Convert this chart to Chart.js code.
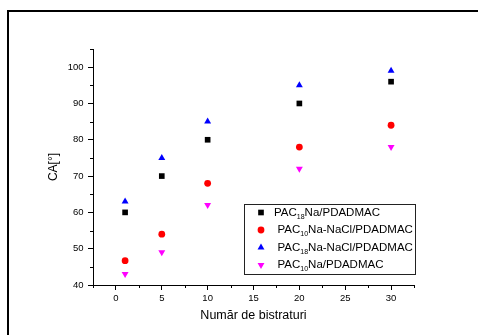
<!DOCTYPE html>
<html>
<head>
<meta charset="utf-8">
<script src="https://cdn.jsdelivr.net/npm/chart.js@4/dist/chart.umd.min.js"></script>
<style>
    html, body { margin: 0; padding: 0; background: #fff; overflow: hidden; }
    #wrap { position: relative; width: 478px; height: 335px; }
    #frame { position: absolute; left: 7px; top: 10px; width: 520px; height: 400px; border: 2px solid #000; }
    #chart { position: absolute; left: 0; top: 0; }
</style>
</head>
<body>
<div id="wrap">
    <div id="frame"></div>
    <canvas id="chart" width="478" height="335"></canvas>
</div>
<script>
// ============================================
// Contact angle vs. number of bilayers
// ============================================

const layers = [1, 5, 10, 20, 30];

const pac18Na = [60, 70, 80, 90, 96];
const pac10NaNaCl = [46.7, 54, 68, 78, 84];
const pac18NaNaCl = [63, 75, 85, 95, 99];
const pac10Na = [43, 49, 62, 72, 78];

// legend labels: "PAC" + subscript + rest
const legendSub = ['18', '10', '18', '10'];
const legendRest = ['Na/PDADMAC', 'Na-NaCl/PDADMAC', 'Na-NaCl/PDADMAC', 'Na/PDADMAC'];

const xMajor = [0, 5, 10, 15, 20, 25, 30];
const xMinor = [-2.5, 2.5, 7.5, 12.5, 17.5, 22.5, 27.5, 32.5];
const yMajor = [40, 50, 60, 70, 80, 90, 100];
const yMinor = [45, 55, 65, 75, 85, 95, 105];

const FONT = '"Liberation Sans", Arial, sans-serif';

function toPoints(values) {
    return values.map((v, i) => ({ x: layers[i], y: v }));
}

const seriesStyle = [
    { data: pac18Na, color: '#000000', pointStyle: 'rect', radius: 4, rotation: 0 },
    { data: pac10NaNaCl, color: '#ff0000', pointStyle: 'circle', radius: 3.4, rotation: 0 },
    { data: pac18NaNaCl, color: '#0000ff', pointStyle: 'triangle', radius: 4, rotation: 0 },
    { data: pac10Na, color: '#ff00ff', pointStyle: 'triangle', radius: 4, rotation: 180 }
];

/**
 * Minor ticks (shorter, drawn outward)
 */
const minorTicks = {
    id: 'minorTicks',
    afterDraw(chart) {
        const ctx = chart.ctx;
        const xs = chart.scales.x;
        const ys = chart.scales.y;
        const area = chart.chartArea;
        ctx.save();
        ctx.strokeStyle = '#000';
        ctx.lineWidth = 1;
        ctx.beginPath();
        xMinor.forEach(v => {
            const px = Math.round(xs.getPixelForValue(v)) + 0.5;
            ctx.moveTo(px, area.bottom);
            ctx.lineTo(px, area.bottom + 3);
        });
        yMinor.forEach(v => {
            const py = Math.round(ys.getPixelForValue(v)) + 0.5;
            ctx.moveTo(area.left, py);
            ctx.lineTo(area.left - 3, py);
        });
        ctx.stroke();
        ctx.restore();
    }
};

/**
 * Boxed legend with subscripts
 */
const boxLegend = {
    id: 'boxLegend',
    afterDatasetsDraw(chart) {
        const ctx = chart.ctx;
        const box = { x: 244.5, y: 204.5, w: 171, h: 70 };
        const rows = [212.5, 230, 247.5, 265];
        const textX = [274, 277.5, 277.5, 277.5];

        ctx.save();
        ctx.fillStyle = '#fff';
        ctx.fillRect(box.x, box.y, box.w, box.h);
        ctx.strokeStyle = '#222';
        ctx.lineWidth = 1;
        ctx.strokeRect(box.x, box.y, box.w, box.h);

        seriesStyle.forEach((s, i) => {
            ctx.fillStyle = s.color;
            ctx.strokeStyle = s.color;
            Chart.helpers.drawPoint(ctx, {
                pointStyle: s.pointStyle,
                radius: s.radius,
                rotation: s.rotation,
                borderWidth: 0
            }, 261, rows[i]);

            ctx.fillStyle = '#000';
            ctx.textBaseline = 'middle';
            ctx.textAlign = 'left';
            let x = textX[i];
            ctx.font = '11.5px ' + FONT;
            ctx.fillText('PAC', x, rows[i]);
            x += ctx.measureText('PAC').width;
            ctx.font = '7px ' + FONT;
            ctx.fillText(legendSub[i], x, rows[i] + 4.5);
            x += ctx.measureText(legendSub[i]).width;
            ctx.font = '11.5px ' + FONT;
            ctx.fillText(legendRest[i], x, rows[i]);
        });
        ctx.restore();
    }
};

function noPadding(scale) {
    scale.paddingLeft = 0;
    scale.paddingRight = 0;
    scale.paddingTop = 0;
    scale.paddingBottom = 0;
}

const config = {
    type: 'scatter',
    data: {
        datasets: seriesStyle.map(s => ({
            data: toPoints(s.data),
            backgroundColor: s.color,
            borderColor: s.color,
            borderWidth: 0,
            pointStyle: s.pointStyle,
            pointRadius: s.radius,
            pointRotation: s.rotation,
            pointHoverRadius: s.radius
        }))
    },
    options: {
        responsive: false,
        animation: false,
        events: [],
        layout: {
            padding: { left: 0, top: 49, right: 64, bottom: 0 }
        },
        plugins: {
            legend: { display: false },
            tooltip: { enabled: false }
        },
        scales: {
            x: {
                type: 'linear',
                min: -2.5,
                max: 32.5,
                afterBuildTicks: scale => { scale.ticks = xMajor.map(v => ({ value: v })); },
                afterFit: scale => { scale.height = 50; noPadding(scale); },
                grid: {
                    display: true,
                    drawOnChartArea: false,
                    drawTicks: true,
                    tickLength: 5,
                    tickColor: '#000',
                    tickWidth: 1
                },
                border: { display: true, color: '#000', width: 1 },
                ticks: {
                    color: '#000',
                    padding: 3,
                    maxRotation: 0,
                    autoSkip: false,
                    font: { family: FONT, size: 9.5 }
                },
                title: {
                    display: true,
                    text: 'Număr de bistraturi',
                    color: '#000',
                    padding: { top: 0, bottom: 11.5 },
                    font: { family: FONT, size: 12.5 }
                }
            },
            y: {
                type: 'linear',
                min: 40,
                max: 105,
                afterBuildTicks: scale => { scale.ticks = yMajor.map(v => ({ value: v })); },
                afterFit: scale => { scale.width = 93; noPadding(scale); },
                grid: {
                    display: true,
                    drawOnChartArea: false,
                    drawTicks: true,
                    tickLength: 5,
                    tickColor: '#000',
                    tickWidth: 1
                },
                border: { display: true, color: '#000', width: 1 },
                ticks: {
                    color: '#000',
                    padding: 4.5,
                    autoSkip: false,
                    font: { family: FONT, size: 9.5 }
                },
                title: {
                    display: true,
                    text: 'CA[°]',
                    color: '#000',
                    padding: { top: 46, bottom: 0 },
                    font: { family: FONT, size: 12 }
                }
            }
        }
    },
    plugins: [minorTicks, boxLegend]
};

new Chart(document.getElementById('chart'), config);
</script>
</body>
</html>
